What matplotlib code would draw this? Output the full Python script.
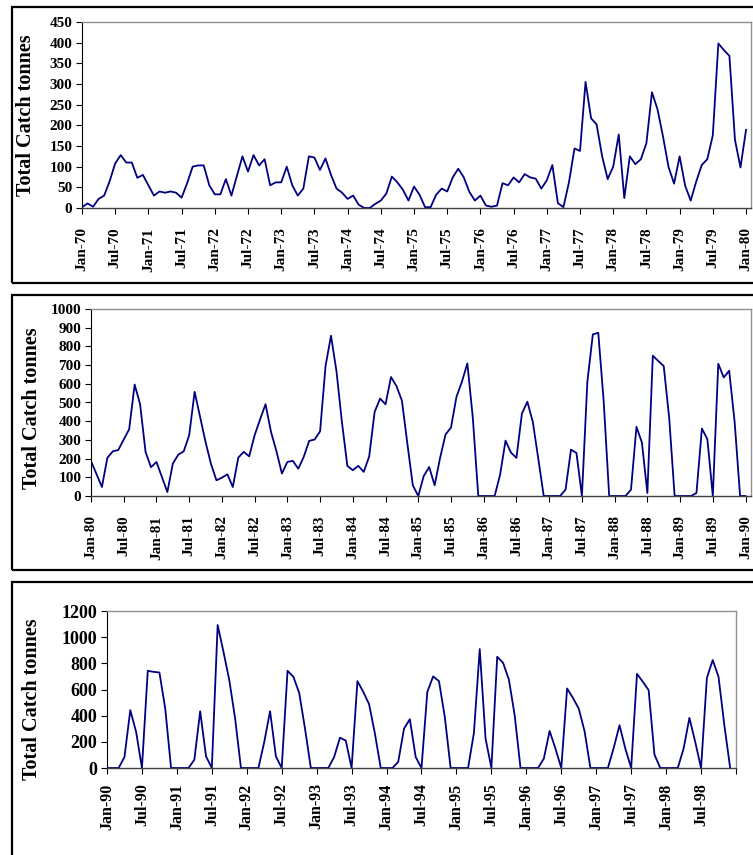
import matplotlib
matplotlib.use("Agg")
import matplotlib.pyplot as plt
from matplotlib.patches import Rectangle

# monthly total catch (tonnes)
catch_70s = [2, 11, 3, 22, 30, 65, 108, 128, 110, 110, 73, 80,
             55, 30, 40, 37, 40, 37, 25, 60, 100, 103, 103, 55,
             33, 33, 70, 30, 78, 125, 88, 128, 103, 118, 55, 62,
             62, 100, 55, 30, 47, 125, 122, 92, 120, 80, 47, 37,
             22, 30, 8, 0, 0, 10, 18, 35, 76, 62, 44, 18,
             52, 32, 2, 2, 32, 47, 40, 74, 95, 74, 39, 18,
             30, 6, 3, 6, 60, 55, 74, 62, 82, 74, 71, 47,
             67, 104, 12, 2, 62, 144, 138, 305, 217, 202, 125, 70,
             100, 178, 24, 125, 106, 118, 157, 280, 239, 173, 99, 59,
             125, 54, 18, 64, 104, 118, 176, 398, 382, 368, 165, 98,
             189]

catch_80s = [187, 118, 48, 204, 239, 246, 302, 357, 596, 491, 236, 154,
             182, 102, 21, 173, 221, 239, 325, 557, 423, 289, 171, 84,
             98, 116, 48, 205, 236, 212, 325, 410, 491, 343, 239, 120,
             182, 188, 146, 209, 295, 302, 346, 695, 857, 668, 396, 161,
             138, 161, 129, 211, 450, 521, 490, 636, 588, 510, 280, 57,
             0, 107, 155, 57, 204, 329, 366, 530, 611, 709, 418, 0,
             0, 0, 0, 114, 296, 232, 204, 441, 504, 396, 200, 0,
             0, 0, 0, 34, 248, 230, 0, 611, 864, 873, 504, 0,
             0, 0, 0, 34, 370, 286, 16, 750, 722, 695, 418, 0,
             0, 0, 0, 16, 361, 304, 0, 707, 634, 670, 396, 0,
             0]

catch_90s = [0, 0, 0, 84, 442, 276, 0, 743, 735, 730, 454, 0,
             0, 0, 0, 64, 434, 89, 0, 1093, 888, 671, 378, 0,
             0, 0, 0, 199, 434, 89, 0, 743, 697, 574, 301, 0,
             0, 0, 0, 84, 232, 209, 0, 664, 582, 488, 263, 0,
             0, 0, 46, 301, 373, 84, 0, 582, 700, 664, 391, 0,
             0, 0, 0, 268, 909, 225, 0, 850, 804, 677, 403, 0,
             0, 0, 0, 71, 283, 148, 0, 608, 536, 454, 281, 0,
             0, 0, 0, 153, 327, 148, 0, 720, 659, 595, 102, 0,
             0, 0, 0, 148, 383, 199, 0, 689, 825, 697, 327, 0]

start_years = [70, 80, 90]
y_max = [450, 1000, 1200]
y_step = [50, 100, 200]

W, H = 753, 855
fig = plt.figure(figsize=(W / 100, H / 100), dpi=100)
plt.rcParams['font.family'] = ['Liberation Serif', 'DejaVu Serif']
plt.rcParams['font.weight'] = 'bold'


def px_axes(l, t, r, b):
    return [l / W, 1 - b / H, (r - l) / W, (b - t) / H]


def half_year_labels(y0, n):
    labs = []
    for k in range(0, n + 1, 6):
        yr = (y0 + k // 12) % 100
        labs.append(("Jan" if k % 12 == 0 else "Jul") + "-%02d" % yr)
    return labs


# outer boxes (right side runs off the page like the original)
for top, bot in [(7, 283), (295, 570), (582, 862)]:
    fig.patches.append(Rectangle((12 / W, 1 - bot / H), 1.0, (bot - top) / H,
                                 transform=fig.transFigure, fill=False,
                                 ec='black', lw=1.6))

layout = [
    dict(box=(82, 22, 751, 208), xmax=120.9, ytick=11, xtick=11, ylab=14.5,
         lab_xy=(-0.069, 0.5), pad=10),
    dict(box=(91, 309, 751, 496), xmax=121, ytick=11, xtick=11, ylab=14.5,
         lab_xy=(-0.074, 0.47), pad=10),
    dict(box=(107, 611, 736, 768), xmax=108, ytick=13, xtick=11.5, ylab=14.5,
         lab_xy=(-0.103, 0.44), pad=7),
]
series = [catch_70s, catch_80s, catch_90s]

for i in range(3):
    lo = layout[i]
    data = series[i]
    ax = fig.add_axes(px_axes(*lo['box']))
    ax.plot(range(len(data)), data, color='#000080', lw=1.3)
    ax.set_xlim(0, lo['xmax'])
    ax.set_ylim(0, y_max[i])
    ax.set_yticks(range(0, y_max[i] + 1, y_step[i]))
    n_months = 120 if i < 2 else 108
    ticks = list(range(0, n_months + 1, 6))
    labs = half_year_labels(start_years[i], n_months)
    if i == 2:
        labs[-1] = ''
    ax.set_xticks(ticks)
    ax.set_xticklabels(labs, rotation=90, fontsize=lo['xtick'], fontweight='bold')
    for t in ax.get_yticklabels():
        t.set_fontsize(lo['ytick'])
        t.set_fontweight('bold')
    ax.tick_params(axis='x', direction='out', length=4, width=0.8, pad=lo['pad'])
    ax.tick_params(axis='y', direction='out', length=4, width=0.8, pad=3)
    ax.spines['left'].set_linewidth(0.8)
    ax.spines['bottom'].set_linewidth(1.0)
    ax.spines['bottom'].set_color('#404040')
    for s in ('top', 'right'):
        ax.spines[s].set_color('#909090')
        ax.spines[s].set_linewidth(1.0)
    ax.set_ylabel('Total Catch tonnes', fontsize=lo['ylab'], fontweight='bold')
    ax.yaxis.set_label_coords(*lo['lab_xy'])

fig.savefig('out.png', dpi=100)
